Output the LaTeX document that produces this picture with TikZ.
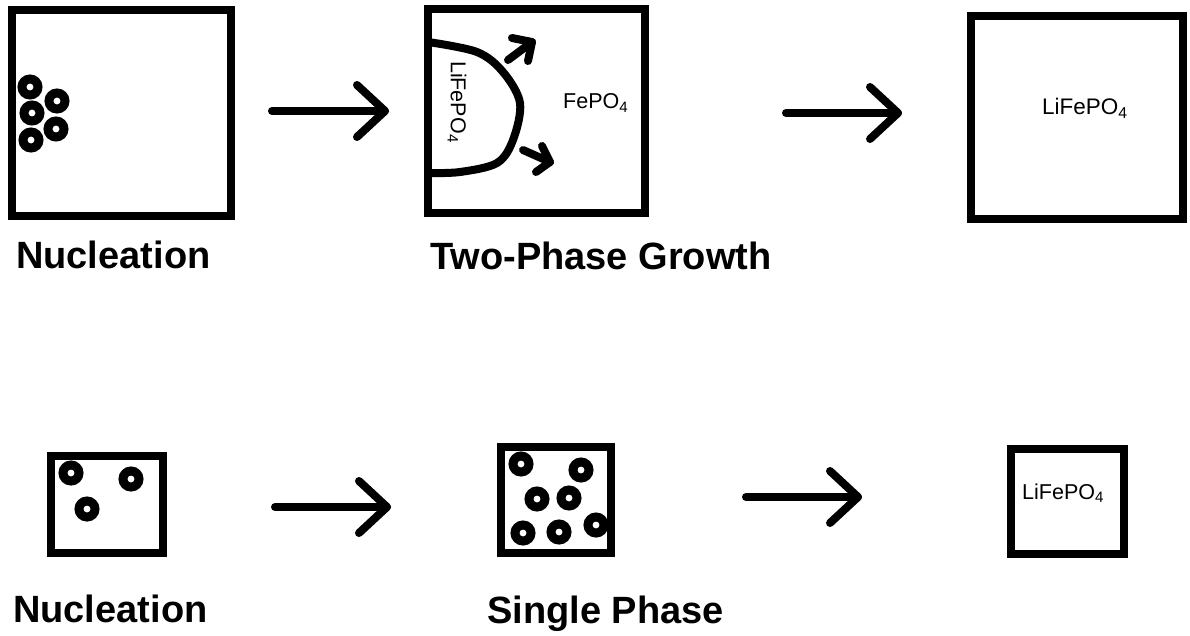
\documentclass[tikz,border=0pt]{standalone}
\usepackage{fontspec}
\setmainfont{Liberation Sans}
\usetikzlibrary{calc}

\tikzset{
  frame/.style={draw=black, line width=8pt, inner sep=0pt, outer sep=0pt},
  ring/.style={circle, draw=black, line width=9pt, minimum size=16pt, inner sep=0pt},
  stroke/.style={draw=black, line width=8pt, line cap=round, line join=round},
  title/.style={anchor=base west, inner sep=0pt, font=\fontsize{38}{42}\selectfont\bfseries},
  chem/.style={inner sep=0pt, font=\fontsize{21.5}{24}\selectfont}
}

% draws a hand-drawn style open arrow between two named coordinates
\newcommand{\handarrow}[2]{%
  \draw[stroke] (#1) -- (#2);
  \draw[stroke] ($(#2)+(-28,-26)$) -- (#2) -- ($(#2)+(-28,26)$);
}

\begin{document}
\begin{tikzpicture}[x=1pt, y=-1pt]
\useasboundingbox (0,0) rectangle (1190,635);

% ---------- upper row: two-phase route ----------
\node[frame, minimum width=219pt, minimum height=206pt] (b1) at (121.5,113) {};
\foreach \p/\q [count=\i] in {30/87, 57/101, 32/113, 56/129, 31/140}
  \node[ring] (n\i) at (\p,\q) {};
\node[title] (t1) at (16,268) {Nucleation};

\coordinate (a1s) at (272,111);
\coordinate (a1e) at (385,111);
\handarrow{a1s}{a1e}

\node[frame, minimum width=217pt, minimum height=204pt] (b2) at (536.5,111) {};
% phase boundary between the lithiated region and FePO4
\draw[stroke, line cap=butt] plot[smooth, tension=0.55] coordinates
  {(428,42) (477,52) (503,72) (520,103) (513,140) (497,163) (460,172) (428,173)};
\coordinate (g1s) at (508,60);
\coordinate (g1e) at (532,42);
\draw[stroke] (g1s) -- (g1e);
\draw[stroke] (512,38) -- (g1e) -- (528,61);
\coordinate (g2s) at (523,150);
\coordinate (g2e) at (550,162);
\draw[stroke] (g2s) -- (g2e);
\draw[stroke] (542,146) -- (g2e) -- (536,172);
\node[chem, rotate=-90] (l2) at (457,102) {LiFePO\textsubscript{4}};
\node[chem, anchor=west] (f2) at (563,103) {FePO\textsubscript{4}};
\node[title] (t2) at (430,269) {Two-Phase Growth};

\coordinate (a2s) at (786,113);
\coordinate (a2e) at (898,113);
\handarrow{a2s}{a2e}

\node[frame, minimum width=212pt, minimum height=203pt] (b3) at (1077,117.5) {};
\node[chem, anchor=west, font=\fontsize{22.5}{25}\selectfont] (l3) at (1042,108) {LiFePO\textsubscript{4}};

% ---------- lower row: single-phase route ----------
\node[frame, minimum width=112pt, minimum height=97pt] (b4) at (107,504.5) {};
\foreach \p/\q [count=\i] in {71/473, 131/479, 87/509}
  \node[ring] (m\i) at (\p,\q) {};
\node[title] (t4) at (13,622) {Nucleation};

\coordinate (a3s) at (275,507);
\coordinate (a3e) at (387,507);
\handarrow{a3s}{a3e}

\node[frame, minimum width=110pt, minimum height=106pt] (b5) at (556,500) {};
\foreach \p/\q [count=\i] in {521/464, 581/470, 537/499, 569/498, 523/533, 559/532, 596/525}
  \node[ring] (s\i) at (\p,\q) {};
\node[title] (t5) at (487,623) {Single Phase};

\coordinate (a4s) at (746,497);
\coordinate (a4e) at (858,497);
\handarrow{a4s}{a4e}

\node[frame, minimum width=113pt, minimum height=105pt] (b6) at (1067.5,501.5) {};
\node[chem, anchor=west] (l6) at (1022,493) {LiFePO\textsubscript{4}};
\end{tikzpicture}
\end{document}
